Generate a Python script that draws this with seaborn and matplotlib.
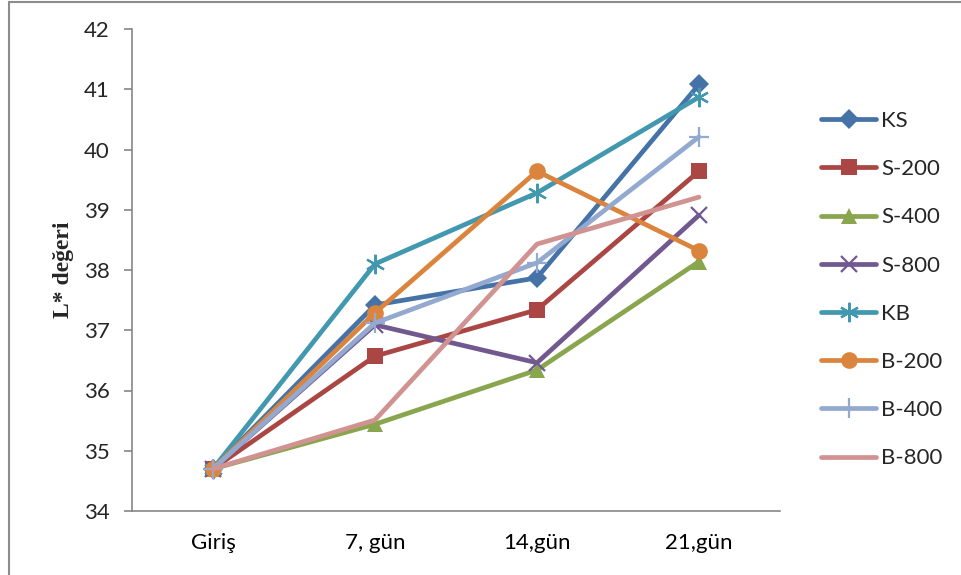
import matplotlib
matplotlib.use("Agg")
import matplotlib.pyplot as plt
from matplotlib.lines import Line2D
import seaborn as sns
import pandas as pd

# Storage days and L* values for each treatment
days = ["Giriş", "7, gün", "14,gün", "21,gün"]
ks = [34.70, 37.42, 37.87, 41.08]
s200 = [34.70, 36.57, 37.34, 39.64]
s400 = [34.70, 35.44, 36.34, 38.14]
s800 = [34.70, 37.09, 36.46, 38.91]
kb = [34.70, 38.10, 39.28, 40.87]
b200 = [34.70, 37.29, 39.64, 38.32]
b400 = [34.70, 37.12, 38.12, 40.21]
b800 = [34.70, 35.51, 38.43, 39.21]

series = {
    "KS": ks, "S-200": s200, "S-400": s400, "S-800": s800,
    "KB": kb, "B-200": b200, "B-400": b400, "B-800": b800,
}
colors = {
    "KS": "#4572A7", "S-200": "#AA4643", "S-400": "#89A54E", "S-800": "#71588F",
    "KB": "#4198AF", "B-200": "#DB843D", "B-400": "#93A9CF", "B-800": "#D19392",
}
markers = {
    "KS": "D", "S-200": "s", "S-400": "^", "S-800": "x",
    "KB": (6, 2, 0), "B-200": "o", "B-400": "+", "B-800": "",
}
msizes = {
    "KS": 10, "S-200": 11, "S-400": 11, "S-800": 12,
    "KB": 14, "B-200": 12, "B-400": 14, "B-800": 0,
}

df = pd.DataFrame(
    [(d, i, name, v) for name, vals in series.items() for i, (d, v) in enumerate(zip(days, vals))],
    columns=["gun", "pos", "seri", "L"],
)

sns.set_style("white")
plt.rcParams["font.family"] = ["Lato", "DejaVu Sans"]

fig = plt.figure(figsize=(9.61, 5.75), dpi=100)
ax = fig.add_axes([132 / 961, 1 - 511 / 575, (780 - 132) / 961, (511 - 29) / 575])

LW = 3.4
handles = []
for name in series:
    sub = df[df["seri"] == name]
    m = markers[name]
    mew = 1.6 if m in ("x", "+", (6, 2, 0)) else 0
    sns.lineplot(
        data=sub, x="pos", y="L", ax=ax, color=colors[name], linewidth=LW,
        marker=m if m else None, markersize=msizes[name],
        markeredgewidth=mew, markeredgecolor=colors[name],
        solid_capstyle="round", legend=False,
    )
    handles.append(Line2D([], [], color=colors[name], linewidth=LW,
                          marker=m if m else None, markersize=msizes[name],
                          markeredgewidth=mew, markeredgecolor=colors[name],
                          solid_capstyle="round", label=name))

ax.set_xlim(-0.5, 3.5)
ax.set_ylim(34, 42)
ax.set_yticks(range(34, 43))
ax.set_xticks(range(len(days)))
ax.set_xticklabels(days)
ax.set_xticks([-0.5, 0.5, 1.5, 2.5, 3.5], minor=True)
ax.tick_params(axis="x", which="major", length=0, pad=16, labelsize=16, colors="black")
ax.tick_params(axis="x", which="minor", length=6, width=1.2, color="#868686", direction="out")
ax.tick_params(axis="y", length=6, width=1.2, color="#868686", direction="out", pad=10,
               labelsize=16, left=True)
ax.set_xlabel("")
ax.set_ylabel("L* değeri", family="Liberation Serif", fontweight="bold", fontsize=17, labelpad=7)

for side in ("top", "right"):
    ax.spines[side].set_visible(False)
for side in ("left", "bottom"):
    ax.spines[side].set_color("#868686")
    ax.spines[side].set_linewidth(1.2)

leg = fig.legend(handles=handles, loc="upper left", bbox_to_anchor=(812 / 961, 1 - 102 / 575),
                 frameon=False, fontsize=16, handlelength=2.5, handletextpad=0.2,
                 labelspacing=1.27, borderaxespad=0)

# Chart frame
fig.add_artist(Line2D([8.5 / 961, 8.5 / 961], [0, 1 - 1.5 / 575], color="#8c8c8c", linewidth=1.5,
                      transform=fig.transFigure))
fig.add_artist(Line2D([8.5 / 961, 1], [1 - 1.5 / 575, 1 - 1.5 / 575], color="#8c8c8c", linewidth=1.5,
                      transform=fig.transFigure))

fig.savefig("out.png", dpi=100)
